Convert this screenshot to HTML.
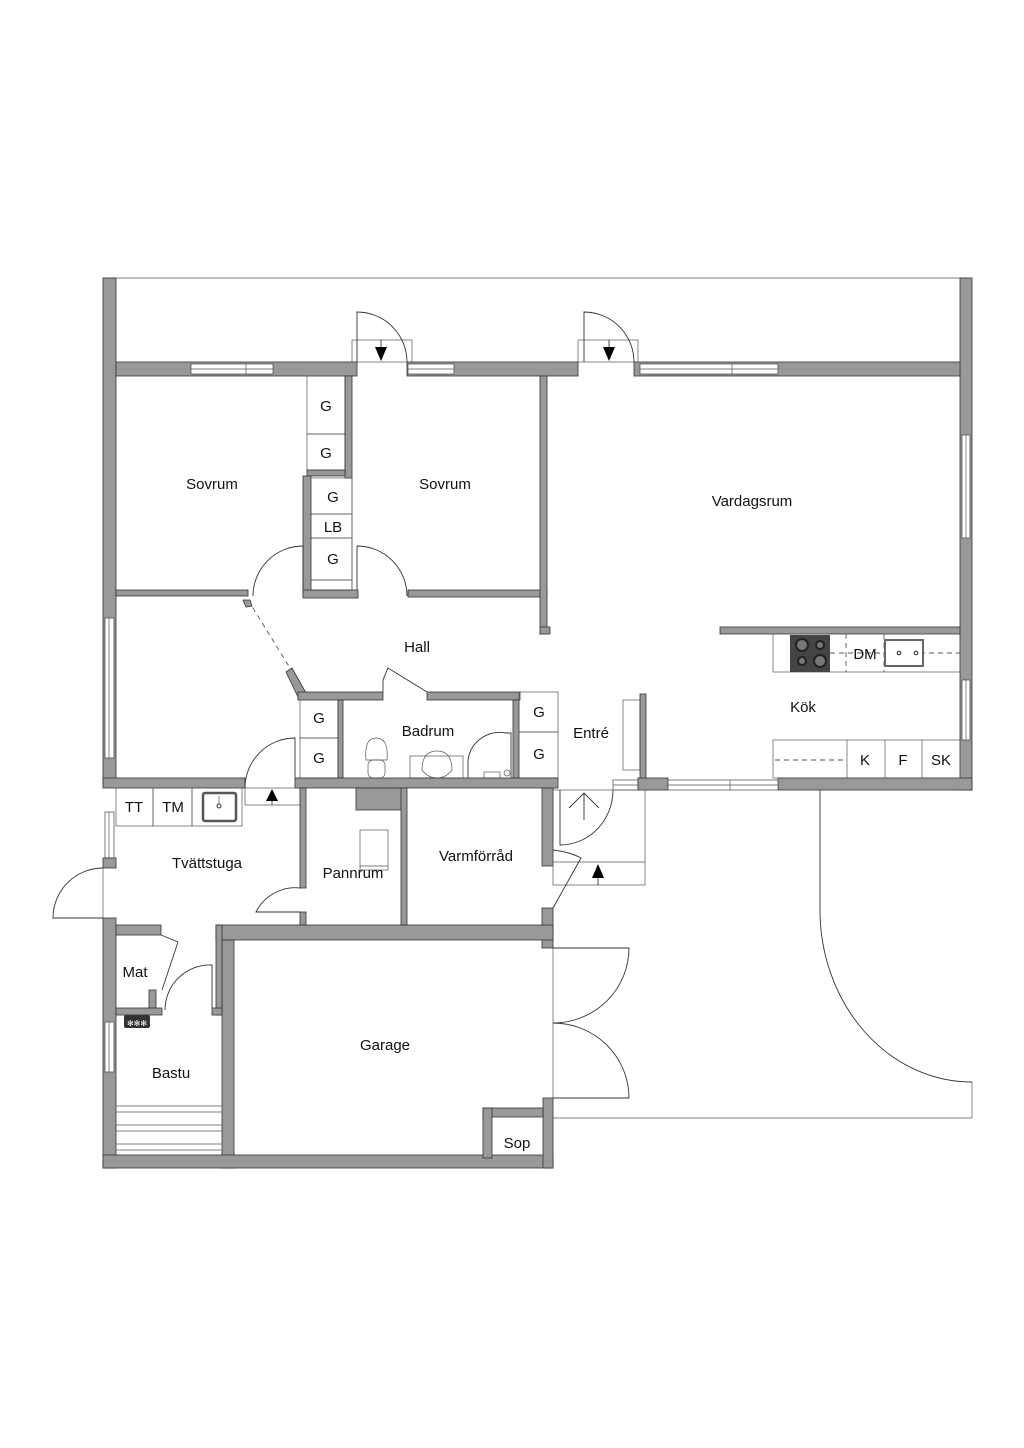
<!DOCTYPE html>
<html><head><meta charset="utf-8"><style>
html,body{margin:0;padding:0;background:#fff;}
svg{display:block;}
text{font-family:"Liberation Sans",sans-serif;font-size:15px;fill:#111;text-anchor:middle;}
.w{fill:#999;stroke:#333;stroke-width:0.8;}
.l{fill:none;stroke:#333;stroke-width:0.9;}
.t{fill:none;stroke:#555;stroke-width:0.7;}
.win{fill:#fff;stroke:#444;stroke-width:0.7;}
.d{fill:none;stroke:#555;stroke-width:0.9;stroke-dasharray:5,4;}
</style></head><body>
<svg width="1024" height="1448" viewBox="0 0 1024 1448" xmlns="http://www.w3.org/2000/svg">
<!-- terrace outline -->
<line class="t" x1="110" y1="278" x2="966" y2="278"/>
<!-- outer left/right walls top part -->
<rect class="w" x="103" y="278" width="13" height="508"/>
<rect class="w" x="960" y="278" width="12" height="512"/>
<!-- top wall of house -->
<rect class="w" x="116" y="362" width="241" height="14"/>
<rect class="w" x="407" y="362" width="171" height="14"/>
<rect class="w" x="634" y="362" width="326" height="14"/>
<!-- top windows -->
<rect class="win" x="191" y="364" width="82" height="10"/><line class="t" x1="191" y1="369" x2="273" y2="369"/><line class="t" x1="246" y1="364" x2="246" y2="374"/>
<rect class="win" x="408" y="364" width="46" height="10"/><line class="t" x1="408" y1="369" x2="454" y2="369"/>
<rect class="win" x="640" y="364" width="138" height="10"/><line class="t" x1="640" y1="369" x2="778" y2="369"/><line class="t" x1="732" y1="364" x2="732" y2="374"/>
<!-- top doors -->
<rect class="t" x="352" y="340" width="60" height="22"/>
<path class="l" d="M357 362 V312 A50 50 0 0 1 407 362"/>
<line class="l" x1="381" y1="340" x2="381" y2="350"/><polygon points="375,347 387,347 381,361" fill="#000"/>
<rect class="t" x="578" y="340" width="60" height="22"/>
<path class="l" d="M584 362 V312 A50 50 0 0 1 634 362"/>
<line class="l" x1="609" y1="340" x2="609" y2="350"/><polygon points="603,347 615,347 609,361" fill="#000"/>
<!-- right wall windows -->
<rect class="win" x="962" y="435" width="8" height="103"/><line class="t" x1="966" y1="435" x2="966" y2="538"/>
<rect class="win" x="962" y="680" width="8" height="60"/><line class="t" x1="966" y1="680" x2="966" y2="740"/>
<!-- left wall windows -->
<rect class="win" x="105" y="618" width="9" height="140"/><line class="t" x1="109" y1="618" x2="109" y2="758"/>
<!-- closets between bedrooms -->
<rect class="t" x="307" y="376" width="38" height="58"/><rect class="t" x="307" y="434" width="38" height="36"/>
<rect class="w" x="345" y="376" width="7" height="102"/>
<rect class="w" x="307" y="470" width="38" height="6"/>
<rect class="w" x="303" y="476" width="8" height="120"/>
<rect class="t" x="311" y="478" width="41" height="36"/><rect class="t" x="311" y="514" width="41" height="24"/><rect class="t" x="311" y="538" width="41" height="42"/><rect class="t" x="311" y="580" width="41" height="10"/>
<line class="t" x1="352" y1="376" x2="352" y2="596"/>
<!-- bedroom bottom walls -->
<rect class="w" x="116" y="590" width="132" height="6"/>
<rect class="w" x="303" y="590" width="55" height="8"/>
<rect class="w" x="408" y="590" width="139" height="7"/>
<path class="l" d="M253 596 A50 50 0 0 1 303 546 V590"/>
<path class="l" d="M357 546 V590 M357 546 A50 50 0 0 1 407 596"/>
<!-- Vardagsrum left wall -->
<rect class="w" x="540" y="376" width="7" height="258"/>
<rect class="w" x="540" y="627" width="10" height="7"/>
<!-- hall diagonal -->
<line class="d" x1="248" y1="600" x2="290" y2="668"/>
<polygon class="w" points="243,600 250,600 252,606 246,607"/>
<polygon class="w" points="286,672 292,668 306,693 298,697"/>
<!-- hall lower walls -->
<rect class="w" x="298" y="692" width="85" height="8"/>
<rect class="w" x="427" y="692" width="93" height="8"/>
<path class="l" d="M383 692 L383 680 L388 668 L427 692"/>
<!-- left room/Tvättstuga wall -->
<rect class="w" x="103" y="778" width="142" height="10"/>
<!-- closets near badrum -->
<rect class="t" x="300" y="700" width="38" height="38"/><rect class="t" x="300" y="738" width="38" height="40"/>
<rect class="w" x="338" y="700" width="5" height="78"/>
<rect class="w" x="513" y="700" width="6" height="78"/>
<rect class="t" x="519" y="692" width="39" height="40"/><rect class="t" x="519" y="732" width="39" height="46"/>
<!-- badrum fixtures -->
<path class="t" d="M366 760 Q364 738 376 738 Q389 738 387 760 Z"/><rect class="t" x="368" y="760" width="17" height="18" rx="5"/>
<rect class="t" x="410" y="756" width="53" height="22"/><path class="t" d="M422 770 Q422 751 437 751 Q452 751 452 770 Q446 778 437 778 Q428 778 422 770Z"/>
<path class="l" d="M468 778 V760 A32 32 0 0 1 506 733 H511 V778" stroke-width="1.4"/>
<circle cx="507" cy="773" r="3" class="t"/><rect class="t" x="484" y="772" width="16" height="6"/>
<!-- wall below badrum -->
<rect class="w" x="295" y="778" width="263" height="10"/>
<rect class="w" x="356" y="788" width="50" height="22"/>
<!-- Tvättstuga -->
<rect class="t" x="116" y="788" width="37" height="38"/><rect class="t" x="153" y="788" width="39" height="38"/><rect class="t" x="192" y="788" width="50" height="38"/>
<rect x="203" y="793" width="33" height="28" rx="2" fill="#fff" stroke="#555" stroke-width="2.5"/>
<circle cx="219" cy="806" r="2" fill="none" stroke="#333"/><line class="t" x1="219" y1="796" x2="219" y2="804"/>
<rect class="t" x="245" y="788" width="55" height="17"/>
<line class="l" x1="272" y1="794" x2="272" y2="805"/><polygon points="266,801 278,801 272,789" fill="#000"/>
<path class="l" d="M245 788 A50 50 0 0 1 295 738 V778"/>
<rect class="win" x="105" y="812" width="9" height="46"/><line class="t" x1="109" y1="812" x2="109" y2="858"/>
<rect class="w" x="103" y="858" width="13" height="10"/>
<path class="l" d="M103 868 A50 50 0 0 0 53 918 H103"/>
<line class="t" x1="103" y1="868" x2="103" y2="918"/>
<!-- Pannrum -->
<rect class="w" x="300" y="788" width="6" height="100"/>
<rect class="w" x="300" y="912" width="6" height="13"/>
<path class="l" d="M300 888 A44 44 0 0 0 256 912 H300"/>
<rect class="t" x="360" y="830" width="28" height="40"/><line class="t" x1="360" y1="866" x2="388" y2="866"/>
<rect class="w" x="401" y="788" width="6" height="137"/>
<rect class="w" x="542" y="788" width="11" height="78"/>
<rect class="w" x="542" y="908" width="11" height="40"/>
<!-- bottom section walls -->
<rect class="w" x="103" y="918" width="13" height="250"/>
<rect class="w" x="116" y="925" width="45" height="10"/>
<rect class="w" x="216" y="925" width="337" height="15"/>
<rect class="w" x="222" y="940" width="12" height="228"/>
<rect class="w" x="216" y="925" width="6" height="90"/>
<!-- Mat -->
<rect class="w" x="149" y="990" width="7" height="18"/>
<rect class="w" x="116" y="1008" width="46" height="7"/>
<rect class="w" x="212" y="1008" width="10" height="7"/>
<path class="l" d="M161 935 L178 942 L162 990"/>
<path class="l" d="M165 1010 A45 45 0 0 1 212 965 V1008"/>
<rect class="win" x="105" y="1022" width="9" height="50"/><line class="t" x1="109" y1="1022" x2="109" y2="1072"/>
<rect x="124" y="1015" width="26" height="13" fill="#333" rx="2"/><text x="137" y="1026" style="font-size:8px;fill:#fff">✻✻✻</text>
<g class="t"><line x1="116" y1="1106" x2="222" y2="1106"/><line x1="116" y1="1112" x2="222" y2="1112"/><line x1="116" y1="1125" x2="222" y2="1125"/><line x1="116" y1="1131" x2="222" y2="1131"/><line x1="116" y1="1144" x2="222" y2="1144"/><line x1="116" y1="1150" x2="222" y2="1150"/></g>
<!-- garage -->
<rect class="w" x="103" y="1155" width="450" height="13"/>
<rect class="w" x="543" y="1098" width="10" height="70"/>
<rect class="w" x="483" y="1108" width="60" height="9"/>
<rect class="w" x="483" y="1108" width="9" height="50"/>
<line class="t" x1="553" y1="948" x2="553" y2="1120"/>
<path class="l" d="M553 948 H629 A76 75 0 0 1 553 1023 A76 75 0 0 1 629 1098 H553"/>
<line class="t" x1="553" y1="1118" x2="972" y2="1118"/>
<line class="t" x1="972" y1="1082" x2="972" y2="1118"/>
<path class="l" d="M820 790 V910 A152 172 0 0 0 972 1082"/>
<!-- entré -->
<rect class="t" x="623" y="700" width="17" height="70"/>
<rect class="w" x="640" y="694" width="6" height="96"/>
<rect class="win" x="613" y="780" width="25" height="10"/><line class="t" x1="613" y1="785" x2="638" y2="785"/>
<rect class="w" x="638" y="778" width="30" height="12"/>
<rect class="w" x="778" y="778" width="194" height="12"/>
<rect class="win" x="668" y="780" width="110" height="10"/><line class="t" x1="668" y1="785" x2="778" y2="785"/><line class="t" x1="730" y1="780" x2="730" y2="790"/>
<rect class="t" x="553" y="790" width="92" height="95"/>
<line class="t" x1="553" y1="862" x2="645" y2="862"/>
<path class="l" d="M560 790 V845 A53 55 0 0 0 613 790"/>
<path class="l" d="M584 820 V793 M569 808 L584 793 L599 808"/>
<line class="l" x1="598" y1="872" x2="598" y2="885"/><polygon points="592,878 604,878 598,864" fill="#000"/>
<path class="l" d="M553 850 Q570 852 581 858 L553 908"/>
<!-- kitchen -->
<rect class="w" x="720" y="627" width="240" height="7"/>
<rect class="t" x="773" y="634" width="187" height="38"/>
<rect x="790" y="635" width="40" height="37" fill="#444"/>
<circle cx="802" cy="645" r="6" fill="#777" stroke="#222" stroke-width="2"/><circle cx="820" cy="645" r="4" fill="#777" stroke="#222" stroke-width="2"/>
<circle cx="802" cy="661" r="4" fill="#777" stroke="#222" stroke-width="2"/><circle cx="820" cy="661" r="6" fill="#777" stroke="#222" stroke-width="2"/>
<line class="d" x1="830" y1="653" x2="960" y2="653"/>
<line class="d" x1="846" y1="634" x2="846" y2="672"/><line class="d" x1="884" y1="634" x2="884" y2="672"/>
<rect x="885" y="640" width="38" height="26" fill="#fff" stroke="#666" stroke-width="2"/>
<circle cx="899" cy="653" r="1.8" fill="none" stroke="#222"/><circle cx="916" cy="653" r="1.8" fill="none" stroke="#222"/>
<rect class="t" x="773" y="740" width="187" height="38"/>
<line class="t" x1="847" y1="740" x2="847" y2="778"/><line class="t" x1="885" y1="740" x2="885" y2="778"/><line class="t" x1="922" y1="740" x2="922" y2="778"/>
<line class="d" x1="775" y1="760" x2="845" y2="760"/>
<!-- labels -->
<text x="212" y="489">Sovrum</text>
<text x="445" y="489">Sovrum</text>
<text x="752" y="506">Vardagsrum</text>
<text x="326" y="411">G</text><text x="326" y="458">G</text>
<text x="333" y="502">G</text><text x="333" y="532">LB</text><text x="333" y="564">G</text>
<text x="417" y="652">Hall</text>
<text x="428" y="736">Badrum</text>
<text x="319" y="723">G</text><text x="319" y="763">G</text>
<text x="539" y="717">G</text><text x="539" y="759">G</text>
<text x="591" y="738">Entré</text>
<text x="865" y="659">DM</text>
<text x="803" y="712">Kök</text>
<text x="865" y="765">K</text><text x="903" y="765">F</text><text x="941" y="765">SK</text>
<text x="134" y="812">TT</text><text x="173" y="812">TM</text>
<text x="207" y="868">Tvättstuga</text>
<text x="353" y="878">Pannrum</text>
<text x="476" y="861">Varmförråd</text>
<text x="135" y="977">Mat</text>
<text x="171" y="1078">Bastu</text>
<text x="385" y="1050">Garage</text>
<text x="517" y="1148">Sop</text>
</svg>
</body></html>
